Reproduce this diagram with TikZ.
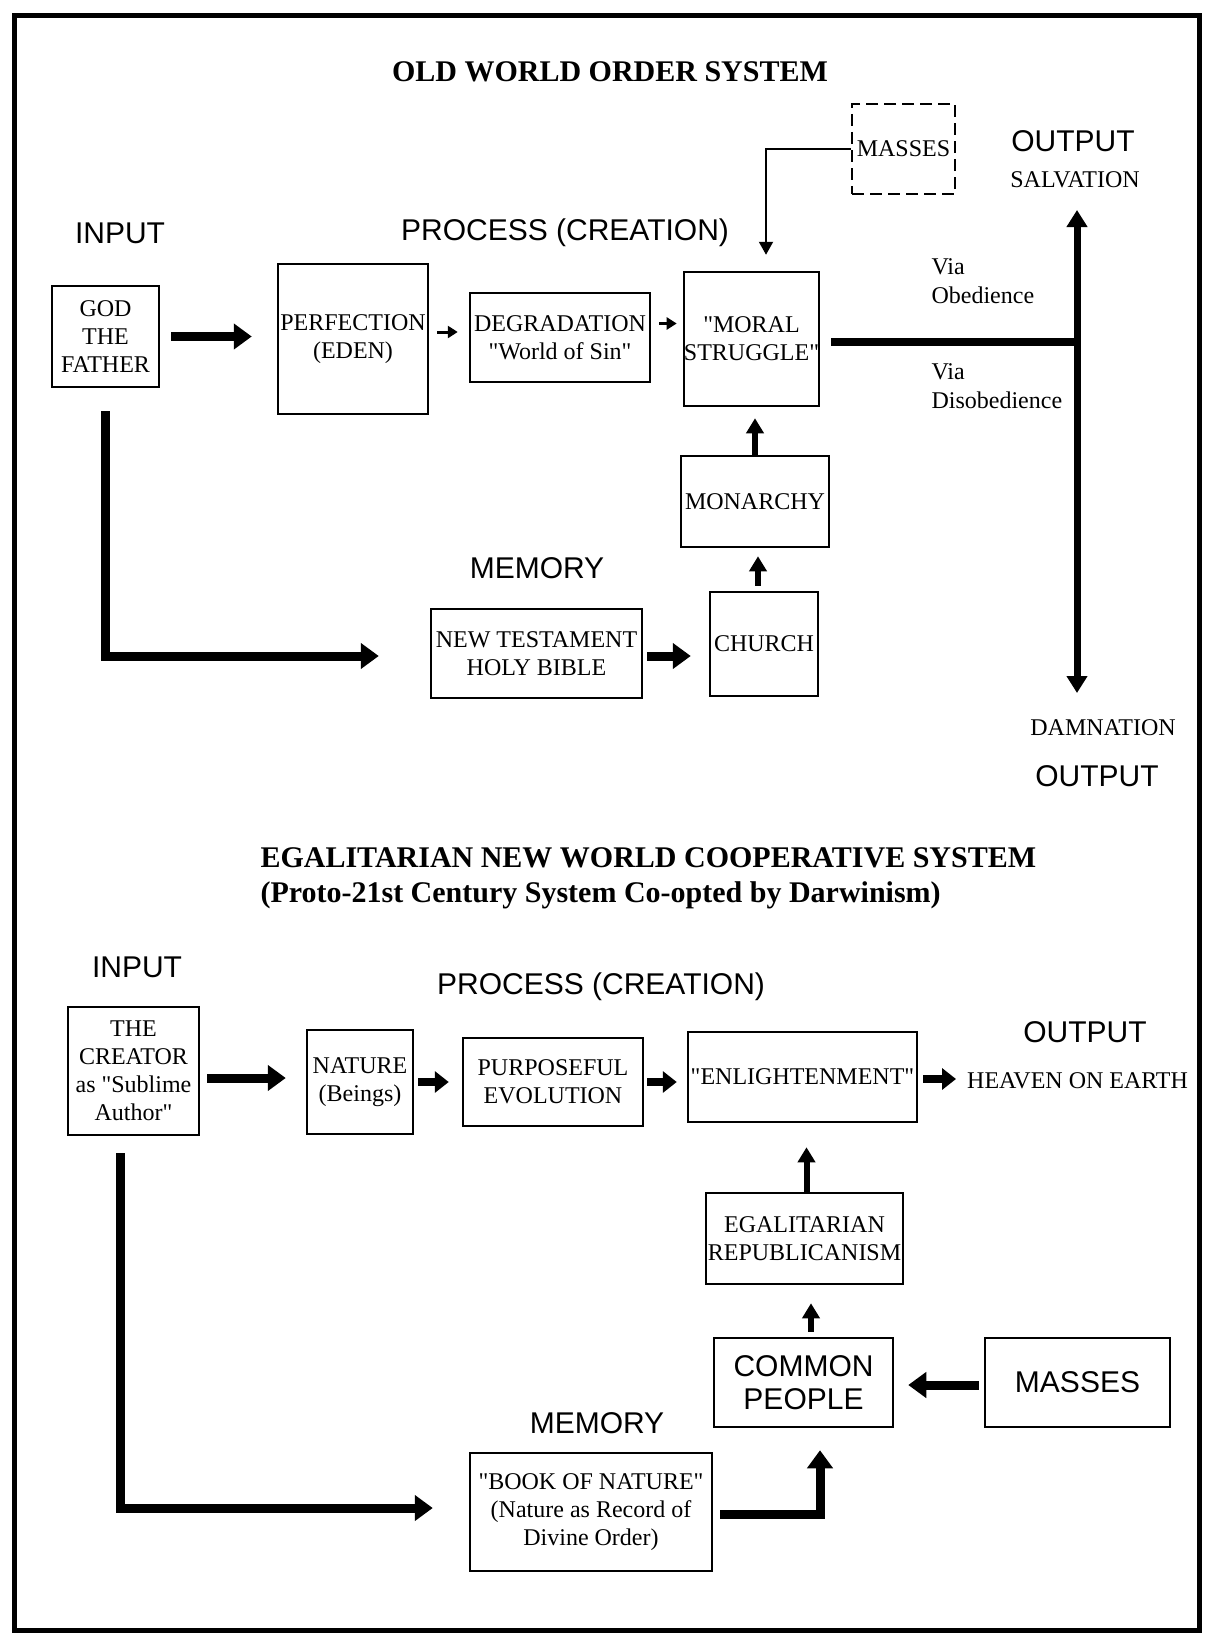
\documentclass[tikz,border=0pt]{standalone}
\usepackage{fontspec}
\setmainfont{Liberation Serif}
\newfontfamily\labelsans{Liberation Sans}
\usetikzlibrary{arrows.meta}
\newcommand{\dq}{\textquotedbl}

\begin{document}
\begin{tikzpicture}[x=1pt, y=-1pt,
	box/.style={draw, line width=2.5pt, inner sep=0pt, align=center, font=\fontsize{24}{28}\selectfont},
	sansbox/.style={box, font=\labelsans\fontsize{30}{33}\selectfont},
	lbl/.style={font=\labelsans\fontsize{30}{34}\selectfont},
	note/.style={font=\fontsize{24}{29}\selectfont, align=left, anchor=west},
	ttl/.style={font=\bfseries\fontsize{30}{36}\selectfont},
	bigarrow/.style={line width=9pt, -{Triangle[length=18pt, width=25pt]}},
	medarrow/.style={line width=8pt, -{Triangle[length=14pt, width=21pt]}},
	midarrow/.style={line width=6pt, -{Triangle[length=15pt, width=17pt]}},
	tinyarrow/.style={line width=3pt, -{Triangle[length=10pt, width=12pt]}},
	thinarrow/.style={line width=2pt, -{Triangle[length=13pt, width=14pt]}}]
	\useasboundingbox (0,0) rectangle (1205,1635);
	\draw[line width=5pt] (14,16) rectangle (1199,1630);

	% old world order
	\node[ttl] (title1) at (610,72) {OLD WORLD ORDER SYSTEM};
	\node[lbl] (input1) at (120,233) {INPUT};
	\node[lbl] (process1) at (565,233) {PROCESS (CREATION)};
	\node[lbl] (output1) at (1073,141) {OUTPUT};
	\node[font=\fontsize{24}{28}\selectfont] (salv) at (1075,180) {SALVATION};
	\node[box, minimum width=107pt, minimum height=101pt] (god) at (105.5,336.5) {GOD\\THE\\FATHER};
	\node[box, minimum width=150pt, minimum height=150pt] (perf) at (353,339) {PERFECTION\\(EDEN)};
	\node[box, minimum width=180pt, minimum height=89pt] (degr) at (560,337.5) {DEGRADATION\\\dq World of Sin\dq};
	\node[box, minimum width=135pt, minimum height=134pt] (moral) at (751.5,339) {\dq MORAL\\STRUGGLE\dq};
	\node[box, dash pattern=on 12pt off 6pt, minimum width=103pt, minimum height=90pt] (masses1) at (903.5,149) {MASSES};
	\node[box, minimum width=148pt, minimum height=91pt] (mon) at (755,501.5) {MONARCHY};
	\node[lbl] (memory1) at (537,568) {MEMORY};
	\node[box, minimum width=211pt, minimum height=89pt] (nt) at (536.5,653.5) {NEW TESTAMENT\\HOLY BIBLE};
	\node[box, minimum width=108pt, minimum height=104pt] (church) at (764,644) {CHURCH};
	\node[note] (via1) at (928,281) {Via\\Obedience};
	\node[note] (via2) at (928,386) {Via\\Disobedience};
	\node[font=\fontsize{24}{28}\selectfont] (damn) at (1103,728) {DAMNATION};
	\node[lbl] (output2) at (1097,776) {OUTPUT};
	\coordinate (outup) at (1077,210);
	\coordinate (outdown) at (1077,693);

	\draw[bigarrow, shorten <=11pt, shorten >=25pt] (god.east) -- (god.east -| perf.west);
	\draw[tinyarrow, shorten <=8pt, shorten >=11pt] ([yshift=7pt]perf.east) -- ([yshift=7pt]perf.east -| degr.west);
	\draw[tinyarrow, shorten <=8pt, shorten >=6pt] ([yshift=14pt]degr.east) -- ([yshift=14pt]degr.east -| moral.west);
	\draw[line width=8pt, shorten <=11pt] ([yshift=-3pt]moral.east) -- ([yshift=-3pt]moral.east -| outup);
	\draw[line width=7pt, {Triangle[length=17pt, width=20pt]}-{Triangle[length=17pt, width=20pt]}] (outup) -- (outdown);
	\draw[thinarrow, shorten >=16pt] (masses1.west) -| ([xshift=14.5pt]moral.north);
	\draw[midarrow, shorten >=11pt] (mon.north) -- (mon.north |- moral.south);
	\draw[midarrow, shorten <=5pt, shorten >=8pt] ([xshift=-6pt]church.north) -- ([xshift=-6pt]church.north |- mon.south);
	\draw[bigarrow, shorten <=4pt, shorten >=18pt] ([yshift=-2.5pt]nt.east) -- ([yshift=-2.5pt]nt.east -| church.west);
	\draw[bigarrow, shorten <=23pt, shorten >=51pt] (god.south) |- ([yshift=-2.5pt]nt.west);

	% egalitarian new world
	\node[ttl, anchor=west] (title2) at (257,858) {EGALITARIAN NEW WORLD COOPERATIVE SYSTEM};
	\node[ttl, anchor=west] (subtitle) at (257,895) {(Proto-21st Century System Co-opted by Darwinism)};
	\node[lbl] (input2) at (137,967) {INPUT};
	\node[lbl] (process2) at (601,987) {PROCESS (CREATION)};
	\node[lbl] (output3) at (1085,1032) {OUTPUT};
	\node[box, minimum width=131pt, minimum height=128pt] (creator) at (133.5,1071) {THE\\CREATOR\\as \dq Sublime\\Author\dq};
	\node[box, minimum width=106pt, minimum height=104pt] (nature) at (360,1082) {NATURE\\(Beings)};
	\node[box, minimum width=180pt, minimum height=88pt] (purp) at (553,1082) {PURPOSEFUL\\EVOLUTION};
	\node[box, minimum width=229pt, minimum height=90pt] (enl) at (802.5,1077) {\dq ENLIGHTENMENT\dq};
	\node[font=\fontsize{24}{28}\selectfont, anchor=west, inner sep=0pt] (heaven) at (967,1081) {HEAVEN ON EARTH};
	\node[box, minimum width=197pt, minimum height=91pt] (egal) at (804.5,1238.5) {EGALITARIAN\\REPUBLICANISM};
	\node[sansbox, minimum width=179pt, minimum height=89pt] (common) at (803.5,1382.5) {COMMON\\PEOPLE};
	\node[sansbox, minimum width=185pt, minimum height=89pt] (masses2) at (1077.5,1382.5) {MASSES};
	\node[lbl] (memory2) at (597,1423) {MEMORY};
	\node[box, minimum width=242pt, minimum height=118pt] (book) at (591,1512) {\dq BOOK OF NATURE\dq\\(Nature as Record of\\Divine Order)};

	\draw[bigarrow, shorten <=7pt, shorten >=20pt] ([yshift=-7pt]creator.east) -- ([yshift=-7pt]creator.east -| nature.west);
	\draw[medarrow, shorten <=4pt, shorten >=13pt] (nature.east) -- (nature.east -| purp.west);
	\draw[medarrow, shorten <=3pt, shorten >=10pt] (purp.east) -- (purp.east -| enl.west);
	\draw[medarrow, shorten <=5pt, shorten >=11pt] ([yshift=-2pt]enl.east) -- ([yshift=-2pt]enl.east -| heaven.west);
	\draw[midarrow, shorten >=24pt] ([xshift=2pt]egal.north) -- ([xshift=2pt]egal.north |- enl.south);
	\draw[midarrow, shorten <=5pt, shorten >=18pt] ([xshift=7.5pt]common.north) -- ([xshift=7.5pt]common.north |- egal.south);
	\draw[bigarrow, shorten <=5pt, shorten >=14pt] ([yshift=-2.5pt]masses2.west) -- ([yshift=-2.5pt]masses2.west -| common.east);
	\draw[bigarrow, shorten <=17pt, shorten >=36pt] ([xshift=-13.5pt]creator.south) |- ([yshift=4pt]book.west);
	\draw[bigarrow, shorten <=7pt, shorten >=22pt] ([yshift=-2pt]book.east) -| ([xshift=16.5pt]common.south);
\end{tikzpicture}
\end{document}
